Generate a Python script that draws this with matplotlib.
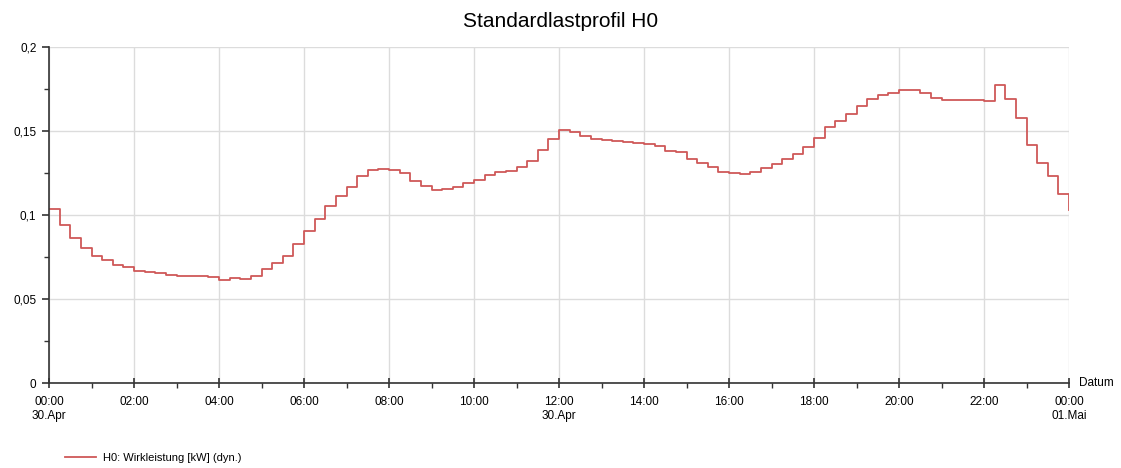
import numpy as np
import matplotlib.pyplot as plt
import matplotlib as mpl

mpl.rcParams['font.family'] = ['Liberation Sans', 'DejaVu Sans']
mpl.rcParams['xtick.labelsize'] = 8.5
mpl.rcParams['ytick.labelsize'] = 8.5

# quarter-hour values of the H0 profile, 30.Apr 00:00 .. 01.Mai 00:00 (kW)
h0_values = [
    0.1034, 0.0939, 0.0863, 0.0802, 0.0758, 0.0730, 0.0704, 0.0692,
    0.0668, 0.0660, 0.0652, 0.0645, 0.0638, 0.0636, 0.0634, 0.0630,
    0.0613, 0.0626, 0.0620, 0.0639, 0.0679, 0.0712, 0.0756, 0.0827,
    0.0903, 0.0976, 0.1054, 0.1111, 0.1167, 0.1232, 0.1268, 0.1276,
    0.1265, 0.1252, 0.1204, 0.1175, 0.1147, 0.1153, 0.1165, 0.1189,
    0.1208, 0.1238, 0.1254, 0.1262, 0.1288, 0.1321, 0.1385, 0.1452,
    0.1506, 0.1496, 0.1472, 0.1450, 0.1445, 0.1440, 0.1435, 0.1428,
    0.1420, 0.1410, 0.1381, 0.1373, 0.1331, 0.1311, 0.1288, 0.1258,
    0.1250, 0.1244, 0.1256, 0.1282, 0.1304, 0.1335, 0.1363, 0.1407,
    0.1456, 0.1526, 0.1561, 0.1599, 0.1647, 0.1688, 0.1712, 0.1728,
    0.1744, 0.1746, 0.1728, 0.1698, 0.1686, 0.1684, 0.1683, 0.1682,
    0.1680, 0.1776, 0.1690, 0.1575, 0.1417, 0.1310, 0.1230, 0.1125,
    0.1030,
]
hours = np.arange(len(h0_values)) / 4.0

x_major = list(range(0, 25, 2))
x_labels = ['00:00\n30.Apr', '02:00', '04:00', '06:00', '08:00', '10:00',
            '12:00\n30.Apr', '14:00', '16:00', '18:00', '20:00', '22:00',
            '00:00\n01.Mai']
y_major = [0, 0.05, 0.1, 0.15, 0.2]
y_labels = ['0', '0,05', '0,1', '0,15', '0,2']

fig = plt.figure(figsize=(11.21, 4.68), dpi=100)
ax = fig.add_axes([49/1121, 85/468, 1020/1121, 336/468])

ax.plot(hours, h0_values, drawstyle='steps-post', color='#cf5858', lw=1.3,
        label='H0: Wirkleistung [kW] (dyn.)')

ax.set_xlim(0, 24)
ax.set_ylim(0, 0.2)
ax.set_xticks(x_major)
ax.set_xticklabels(x_labels)
ax.set_xticks(range(1, 24, 2), minor=True)
ax.set_yticks(y_major)
ax.set_yticklabels(y_labels)
ax.set_yticks([0.025, 0.075, 0.125, 0.175], minor=True)

ax.grid(True, which='major', color='#dcdcdc', lw=1.0)
ax.set_axisbelow(True)
for side in ['top', 'right']:
    ax.spines[side].set_visible(False)
for side in ['left', 'bottom']:
    ax.spines[side].set_color('#333333')
    ax.spines[side].set_linewidth(1.2)

ax.tick_params(which='major', direction='inout', length=7, width=1.2, color='#333333', pad=6)
ax.tick_params(which='minor', direction='out', length=3.5, width=1.0, color='#333333')
ax.tick_params(axis='y', which='major', direction='out', length=5, pad=4)

ax.text(1.01, 0.0, 'Datum', transform=ax.transAxes, fontsize=8.5, va='center', ha='left')

fig.text(0.5, 0.955, 'Standardlastprofil H0', ha='center', va='center', fontsize=15)

fig.legend(loc='lower left', bbox_to_anchor=(57/1121, -0.006), frameon=False,
           fontsize=8, handlelength=2.8, handletextpad=0.6, borderaxespad=0.3)

plt.savefig('out.png', dpi=100)
